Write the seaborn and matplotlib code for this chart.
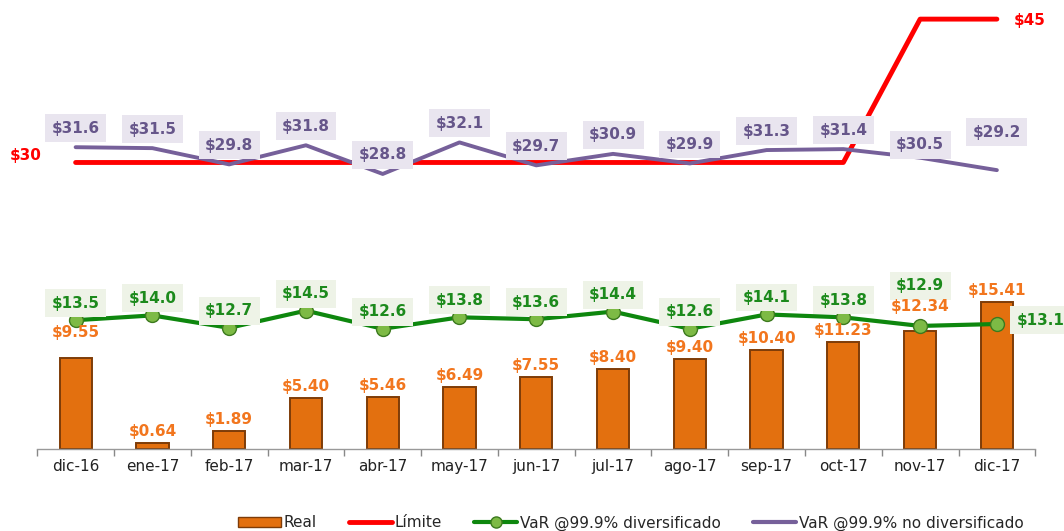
import numpy as np
import pandas as pd
import matplotlib
matplotlib.use("Agg")
import matplotlib.pyplot as plt
from matplotlib.lines import Line2D
from matplotlib.patches import Patch
import seaborn as sns

# Monthly VaR figures (millions)
meses = ["dic-16", "ene-17", "feb-17", "mar-17", "abr-17", "may-17", "jun-17",
         "jul-17", "ago-17", "sep-17", "oct-17", "nov-17", "dic-17"]
real = [9.55, 0.64, 1.89, 5.40, 5.46, 6.49, 7.55, 8.40, 9.40, 10.40, 11.23, 12.34, 15.41]
limite = [30, 30, 30, 30, 30, 30, 30, 30, 30, 30, 30, 45, 45]
var_div = [13.5, 14.0, 12.7, 14.5, 12.6, 13.8, 13.6, 14.4, 12.6, 14.1, 13.8, 12.9, 13.1]
var_no_div = [31.6, 31.5, 29.8, 31.8, 28.8, 32.1, 29.7, 30.9, 29.9, 31.3, 31.4, 30.5, 29.2]

df = pd.DataFrame({
    "mes": meses,
    "pos": np.arange(len(meses)),
    "real": real,
    "limite": limite,
    "var_div": var_div,
    "var_no_div": var_no_div,
})

sns.set_theme(style="white")
plt.rcParams["font.family"] = ["DejaVu Sans"]

C_BAR = "#E3700F"
C_BAR_EDGE = "#7E3C08"
C_RED = "#FF0000"
C_GREEN = "#0E870E"
C_GREEN_TXT = "#1C8A1C"
C_GREEN_MK = "#7DBA45"
C_PURPLE = "#76609A"
C_PURPLE_TXT = "#66568A"
C_ORANGE_TXT = "#F2761E"

fig = plt.figure(figsize=(10.64, 5.31), dpi=100)
ax = fig.add_axes([0.035, 0.154, 0.938, 0.846])

sns.barplot(data=df, x="mes", y="real", order=meses, color=C_BAR, width=0.42,
            edgecolor=C_BAR_EDGE, linewidth=1.4, saturation=1, ax=ax, zorder=2)

sns.lineplot(data=df, x="pos", y="limite", color=C_RED, linewidth=3.5, ax=ax,
             zorder=3, sort=False)
sns.lineplot(data=df, x="pos", y="var_no_div", color=C_PURPLE, linewidth=2.8,
             ax=ax, zorder=4, sort=False)
sns.lineplot(data=df, x="pos", y="var_div", color=C_GREEN, linewidth=3,
             marker="o", markersize=10, markerfacecolor=C_GREEN_MK,
             markeredgecolor="#3C7A1E", markeredgewidth=1, ax=ax, zorder=5,
             sort=False)

ax.set_xlim(-0.5, len(meses) - 0.5)
ax.set_ylim(0, 47)
ax.set_xlabel("")
ax.set_ylabel("")
ax.set_yticks([])
ax.set_xticks(df["pos"])
ax.set_xticklabels(meses, fontsize=11, color="#222222")
ax.tick_params(axis="x", which="major", length=0, pad=7)
ax.set_xticks(np.arange(-0.5, len(meses), 1.0), minor=True)
ax.tick_params(axis="x", which="minor", length=5, color="#888888", width=1,
               direction="out", bottom=True)
for side in ["top", "right", "left"]:
    ax.spines[side].set_visible(False)
ax.spines["bottom"].set_color("#999999")
ax.spines["bottom"].set_linewidth(1)

fs = 11
box_pad = "square,pad=0.42"

# Non-diversified VaR labels
purple_off = {12: 38, 11: 13}
for i, v in enumerate(var_no_div):
    ax.annotate(f"${v:.1f}", (i, v), xytext=(0, purple_off.get(i, 19)),
                textcoords="offset pixels", ha="center", va="center",
                fontsize=fs, fontweight="bold", color=C_PURPLE_TXT, zorder=6,
                bbox=dict(boxstyle=box_pad, fc="#E9E5EF", ec="none"))

# Diversified VaR labels
for i, v in enumerate(var_div):
    if i == len(var_div) - 1:
        xy_off, ha = (20, 4), "left"
    elif i == 11:
        xy_off, ha = (0, 40), "center"
    else:
        xy_off, ha = (0, 17), "center"
    ax.annotate(f"${v:.1f}", (i, v), xytext=xy_off, textcoords="offset pixels",
                ha=ha, va="center", fontsize=fs, fontweight="bold",
                color=C_GREEN_TXT, zorder=6,
                bbox=dict(boxstyle=box_pad, fc="#EEF3E7", ec="none"))

# Real values above the bars
real_off = {0: 18, 11: 17}
for i, v in enumerate(real):
    ax.annotate(f"${v:.2f}", (i, v), xytext=(0, real_off.get(i, 4)),
                textcoords="offset pixels", ha="center", va="bottom",
                fontsize=fs, fontweight="bold", color=C_ORANGE_TXT, zorder=6)

# Limit labels at both ends
ax.annotate(f"${limite[0]}", (0, limite[0]), xytext=(-50, 7),
            textcoords="offset pixels", ha="center", va="center",
            fontsize=fs, fontweight="bold", color=C_RED)
ax.annotate(f"${limite[-1]}", (len(limite) - 1, limite[-1]), xytext=(33, -1),
            textcoords="offset pixels", ha="center", va="center",
            fontsize=fs, fontweight="bold", color=C_RED, annotation_clip=False)

handles = [
    Patch(facecolor=C_BAR, edgecolor=C_BAR_EDGE, label="Real"),
    Line2D([0], [0], color=C_RED, lw=3.5, label="Límite"),
    Line2D([0], [0], color=C_GREEN, lw=3, marker="o", markersize=8,
           markerfacecolor=C_GREEN_MK, markeredgecolor="#3C7A1E",
           label="VaR @99.9% diversificado"),
    Line2D([0], [0], color=C_PURPLE, lw=3, label="VaR @99.9% no diversificado"),
]
fig.legend(handles=handles, loc="lower center", bbox_to_anchor=(0.593, -0.025),
           ncol=4, frameon=False, fontsize=11, handlelength=2.8,
           handletextpad=0.2, columnspacing=2.1)

fig.savefig("out.png", dpi=100)
